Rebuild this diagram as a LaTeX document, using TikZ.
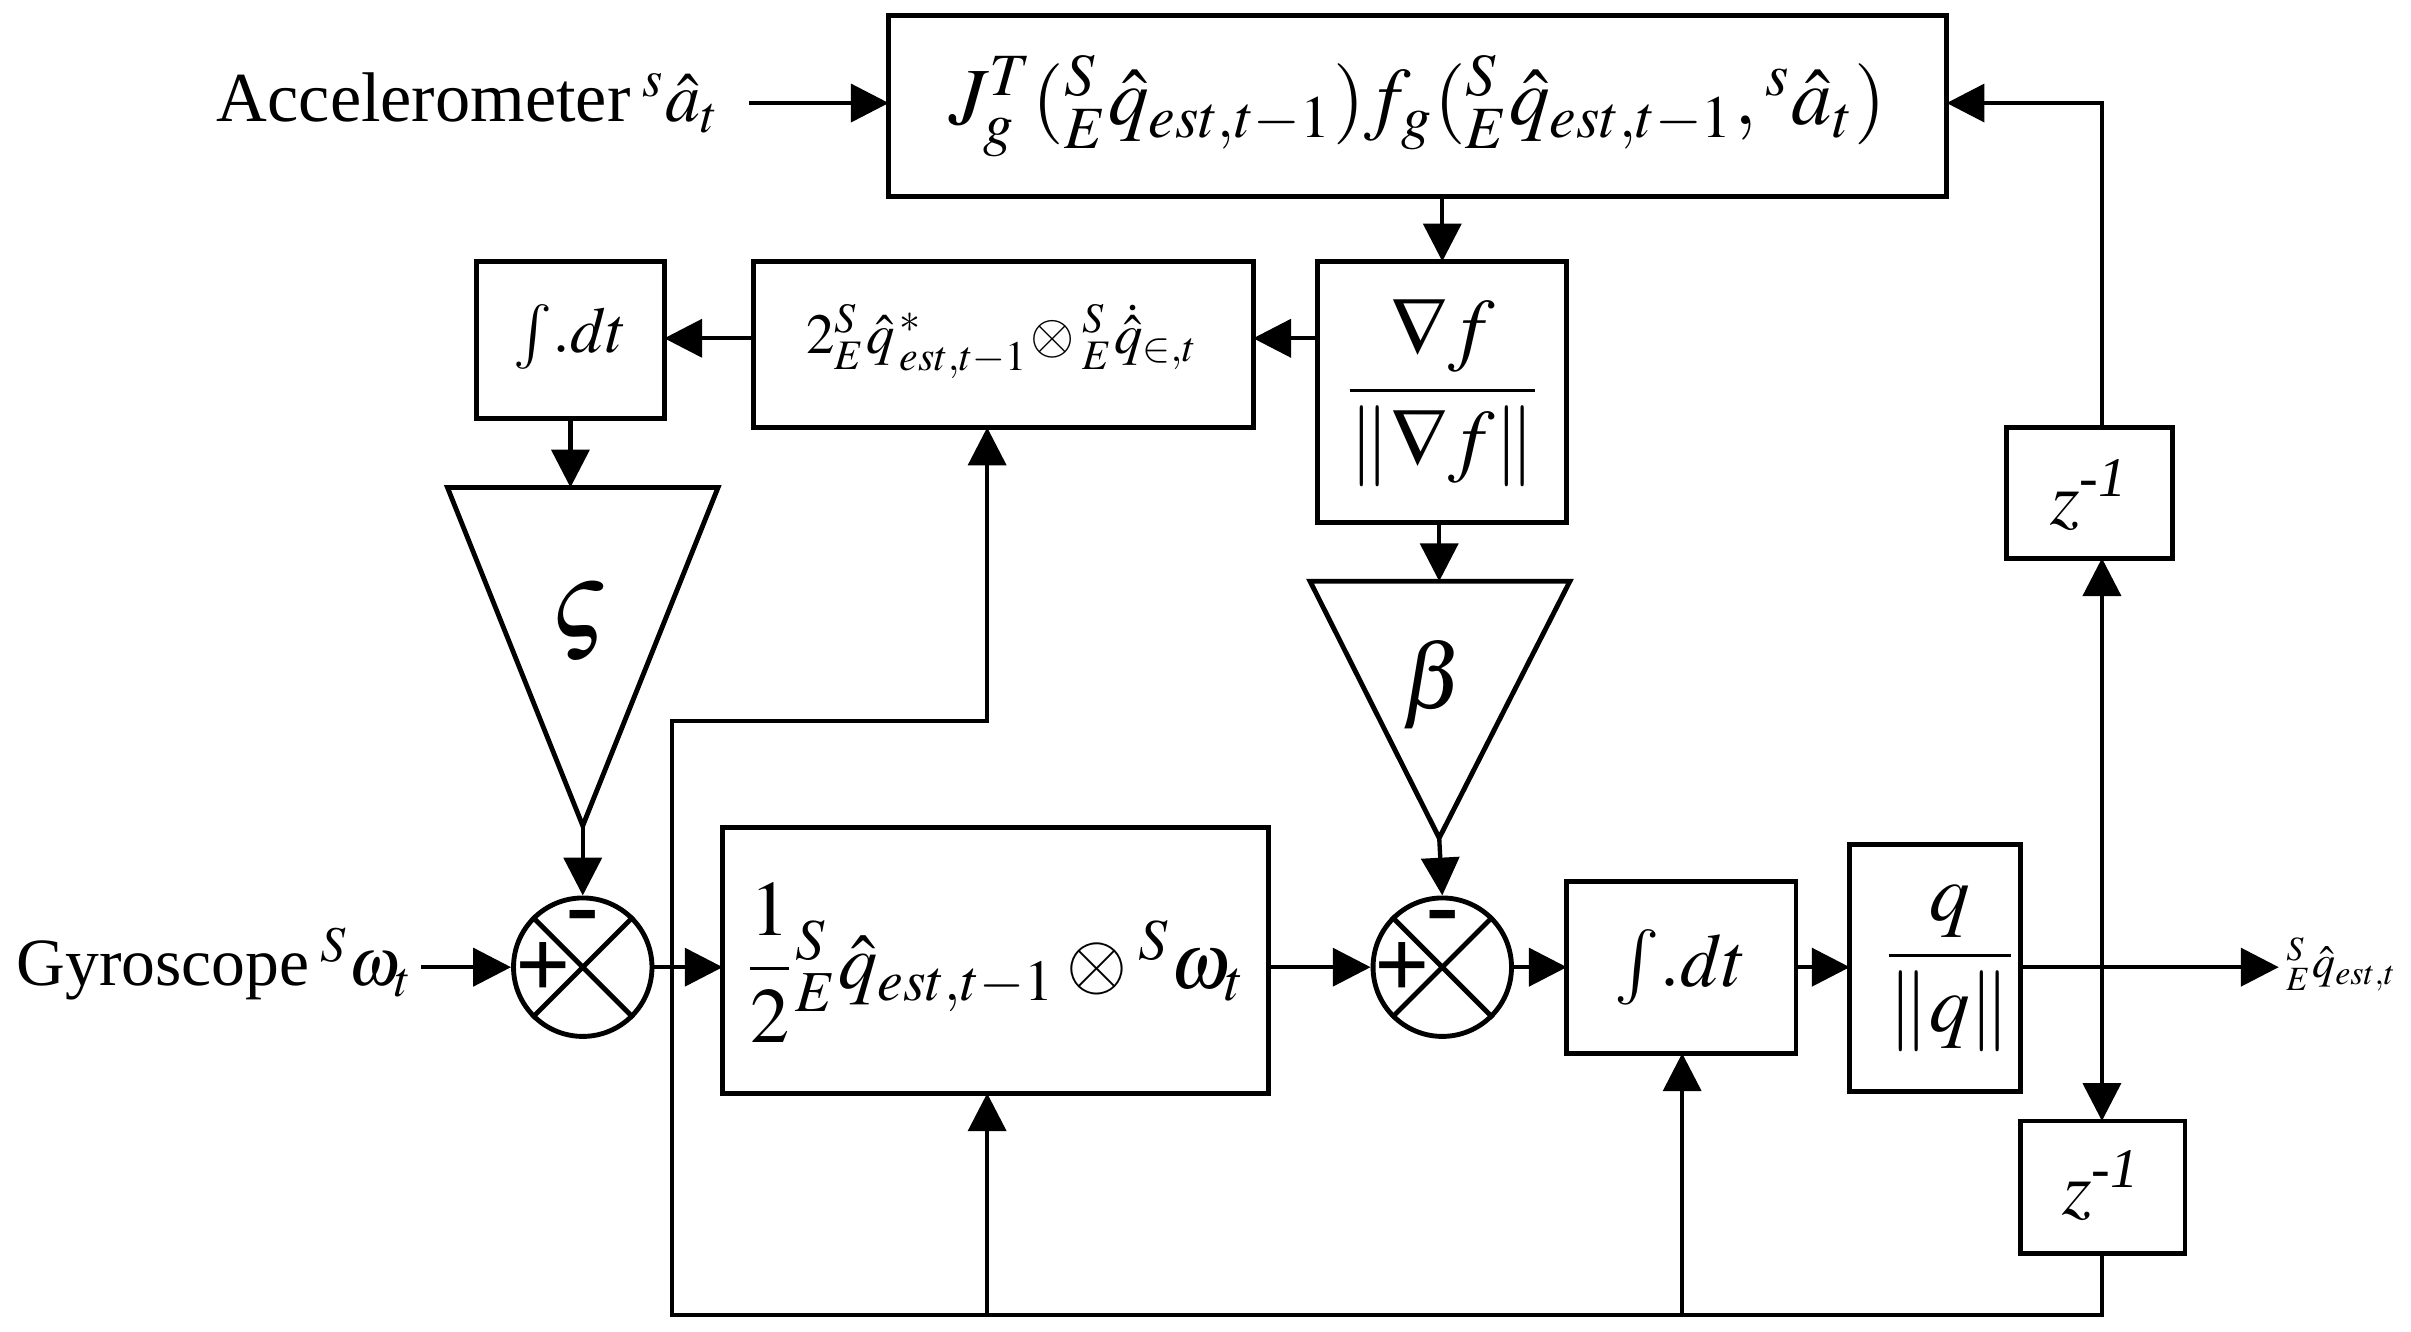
\documentclass[tikz,border=0pt]{standalone}
\usepackage{mathptmx}
\usepackage{amsmath}
\usepackage{fontspec}
\setmainfont{Liberation Serif}
\usetikzlibrary{arrows.meta}
\begin{document}
\begin{tikzpicture}[x=0.01cm,y=-0.01cm,
  line width=0.8pt,
  arr/.style={-{Triangle[length=7pt,width=7pt]}},
  lbl/.style={inner sep=1pt}]
\useasboundingbox (0,0) rectangle (1568,866);
% boxes
\draw[line width=0.9pt] (578,10) rectangle (1266,128);
\node[lbl,font=\fontsize{15}{18}\selectfont] (top) at (922,69) {$J_g^T({}^S_E\hat q_{est,t-1})f_g({}^S_E\hat q_{est,t-1},{}^s\hat a_t)$};
\coordinate (topS) at (938,128); \coordinate (topR) at (1266,67); \coordinate (topL) at (578,67);
\draw[line width=0.9pt] (857,170) rectangle (1019,340);
\node[lbl,font=\fontsize{15}{18}\selectfont] (grad) at (938,255) {$\dfrac{\nabla f}{\|\nabla f\|}$};
\coordinate (gradN) at (938,170); \coordinate (gradW) at (857,220); \coordinate (gradS) at (936,340);
\draw[line width=0.9pt] (490,170) rectangle (815,278);
\node[lbl,font=\fontsize{10.5}{13}\selectfont] (b2) at (652,222) {$2{}^S_E\hat q{}^{\,*}_{\,est,t-1}\!\otimes{}^S_E\dot{\hat q}_{\in,t}$};
\coordinate (b2E) at (815,220); \coordinate (b2W) at (490,220); \coordinate (b2S) at (642,278);
\draw[line width=0.9pt] (310,170) rectangle (432,272);
\node[lbl,font=\fontsize{12}{15}\selectfont] (int1) at (371,219) {$\int\!.dt$};
\coordinate (int1E) at (432,220); \coordinate (int1S) at (371,272);
% triangles
\draw[line width=0.9pt] (291,317) -- (467,317) -- (379,537) -- cycle;
\node[font=\fontsize{20}{22}\selectfont] (zeta) at (377,405) {$\varsigma$};
\coordinate (zetaN) at (371,317); \coordinate (zetaS) at (379,537);
\draw[line width=0.9pt] (852,378) -- (1021,378) -- (936,545) -- cycle;
\node[font=\fontsize{17}{20}\selectfont] (beta) at (932,445) {$\beta$};
\coordinate (betaN) at (936,378); \coordinate (betaS) at (936,545);
% sums
\foreach \n/\cx in {s1/379,s2/938}{
  \node[circle,draw,line width=0.9pt,minimum size=0.9cm,inner sep=0pt] (\n) at (\cx,629) {};
  \draw[line width=0.9pt] (\n.45) -- (\n.225) (\n.135) -- (\n.315);
  \node[font=\fontsize{18}{18}\selectfont\bfseries,inner sep=0pt] at (\cx-26,631) {+};
  \node[font=\fontsize{18}{18}\selectfont\bfseries,inner sep=0pt] at (\cx,601) {-};
}
\draw[line width=0.9pt] (470,538) rectangle (825,711);
\node[lbl,font=\fontsize{14.5}{17}\selectfont] (b3) at (647,626) {$\dfrac{1}{2}{}^S_E\hat q_{est,t-1}\otimes{}^S\omega_t$};
\coordinate (b3W) at (470,629); \coordinate (b3E) at (825,629); \coordinate (b3S) at (642,711);
\draw[line width=0.9pt] (1019,573) rectangle (1168,685);
\node[lbl,font=\fontsize{14}{17}\selectfont] (int2) at (1093,629) {$\int\!.dt$};
\coordinate (int2W) at (1019,629); \coordinate (int2E) at (1168,629); \coordinate (int2S) at (1094,685);
\draw[line width=0.9pt] (1203,549) rectangle (1314,710);
\node[lbl,font=\fontsize{15}{18}\selectfont] (qn) at (1268,630) {$\dfrac{q}{\|q\|}$};
\coordinate (qnW) at (1203,629); \coordinate (qnE) at (1314,629);
\draw[line width=0.9pt] (1305,278) rectangle (1413,363);
\node[lbl,font=\fontsize{14}{17}\selectfont] (z1) at (1359,322) {$z^{\textit{-1}}$};
\coordinate (z1N) at (1367,278); \coordinate (z1S) at (1367,363);
\draw[line width=0.9pt] (1314,729) rectangle (1421,815);
\node[lbl,font=\fontsize{14}{17}\selectfont] (z2) at (1367,771) {$z^{\textit{-1}}$};
\coordinate (z2N) at (1367,729); \coordinate (z2S) at (1367,815);
% labels
\node[lbl,anchor=east,font=\fontsize{13}{16}\selectfont] (acc) at (473,67) {Accelerometer\,${}^s\hat a_t$};
\node[lbl,anchor=east,font=\fontsize{12.5}{16}\selectfont] (gyr) at (274,627) {Gyroscope\,${}^S\omega_t$};
\node[lbl,anchor=west,font=\fontsize{8.5}{10}\selectfont] (out) at (1482,627) {${}^S_E\hat q_{est,t}$};
\coordinate (accE) at (487,67); \coordinate (gyrE) at (274,629); \coordinate (outW) at (1482,629);
\coordinate (tap) at (1367,629);
% connectors
\draw[arr] (accE) -- (topL);
\draw[arr] (topS) -- (gradN);
\draw[arr] (gradW) -- (b2E);
\draw[arr] (b2W) -- (int1E);
\draw[arr] (int1S) -- (zetaN);
\draw[arr] (zetaS) -- (s1.north);
\draw[arr] (gradS) -- (betaN);
\draw[arr] (betaS) -- (s2.north);
\draw[arr] (gyrE) -- (s1.west);
\draw[arr] (s1.east) -- (b3W);
\draw[arr] (b3E) -- (s2.west);
\draw[arr] (s2.east) -- (int2W);
\draw[arr] (int2E) -- (qnW);
\draw[arr] (qnE) -- (outW);
\draw[arr] (tap) -- (z1S);
\draw[arr] (tap) -- (z2N);
\draw[arr] (z1N) |- (topR);
\draw[arr] (z2S) -- (1367,855) -| (437,469) -| (b2S);
\draw[arr] (642,855) -- (b3S);
\draw[arr] (1094,855) -- (int2S);
\end{tikzpicture}
\end{document}
